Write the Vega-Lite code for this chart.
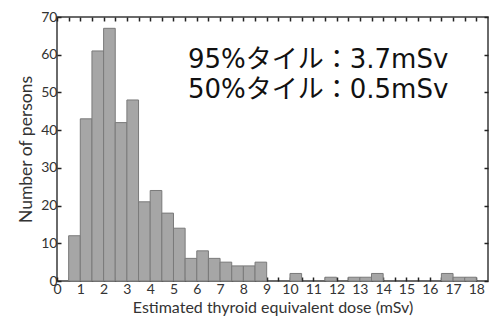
{
  "$schema": "https://vega.github.io/schema/vega-lite/v6.json",
  "width": 431,
  "height": 264,
  "autosize": "none",
  "padding": {"left": 57, "top": 17, "right": 1, "bottom": 42},
  "background": "white",
  "config": {
    "view": {"stroke": "#3a3a3a", "strokeWidth": 1.5},
    "axis": {
      "labelFont": "Lato", "titleFont": "Lato",
      "labelColor": "#333", "titleColor": "#333",
      "grid": false, "domain": false,
      "tickColor": "#222", "tickWidth": 1.5, "tickSize": -4
    }
  },
  "datasets": {
    "bins": [
      {"start": 0.5, "end": 1.0, "count": 12},
      {"start": 1.0, "end": 1.5, "count": 43},
      {"start": 1.5, "end": 2.0, "count": 61},
      {"start": 2.0, "end": 2.5, "count": 67},
      {"start": 2.5, "end": 3.0, "count": 42},
      {"start": 3.0, "end": 3.5, "count": 48},
      {"start": 3.5, "end": 4.0, "count": 21},
      {"start": 4.0, "end": 4.5, "count": 24},
      {"start": 4.5, "end": 5.0, "count": 18},
      {"start": 5.0, "end": 5.5, "count": 14},
      {"start": 5.5, "end": 6.0, "count": 6},
      {"start": 6.0, "end": 6.5, "count": 8},
      {"start": 6.5, "end": 7.0, "count": 6},
      {"start": 7.0, "end": 7.5, "count": 5},
      {"start": 7.5, "end": 8.0, "count": 4},
      {"start": 8.0, "end": 8.5, "count": 4},
      {"start": 8.5, "end": 9.0, "count": 5},
      {"start": 10.0, "end": 10.5, "count": 2},
      {"start": 11.5, "end": 12.0, "count": 1},
      {"start": 12.5, "end": 13.0, "count": 1},
      {"start": 13.0, "end": 13.5, "count": 1},
      {"start": 13.5, "end": 14.0, "count": 2},
      {"start": 16.5, "end": 17.0, "count": 2},
      {"start": 17.0, "end": 17.5, "count": 1},
      {"start": 17.5, "end": 18.0, "count": 1}
    ],
    "notes": [
      {"label": "95%タイル：3.7mSv", "dose": 5.62, "persons": 56.4},
      {"label": "50%タイル：0.5mSv", "dose": 5.62, "persons": 48.4}
    ]
  },
  "resolve": {"axis": {"x": "independent", "y": "independent"}},
  "layer": [
    {
      "data": {"name": "bins"},
      "mark": {"type": "rect", "fill": "#a6a6a6", "stroke": "#7a7a7a", "strokeWidth": 1},
      "encoding": {
        "x": {
          "field": "start", "type": "quantitative",
          "scale": {"domain": [0, 18.5], "nice": false, "zero": false},
          "axis": {
            "orient": "bottom",
            "values": [0,0.5,1,1.5,2,2.5,3,3.5,4,4.5,5,5.5,6,6.5,7,7.5,8,8.5,9,9.5,10,10.5,11,11.5,12,12.5,13,13.5,14,14.5,15,15.5,16,16.5,17,17.5,18],
            "labelExpr": "datum.value % 1 == 0 ? format(datum.value, 'd') : ''",
            "labelOverlap": false, "labelFlush": false,
            "labelFontSize": 14, "labelPadding": 5,
            "title": "Estimated thyroid equivalent dose (mSv)",
            "titleFontSize": 16, "titleFontWeight": "normal", "titlePadding": 3
          }
        },
        "x2": {"field": "end"},
        "y": {
          "field": "count", "type": "quantitative",
          "scale": {"domain": [0, 70], "nice": false},
          "axis": {
            "orient": "left",
            "values": [0,10,20,30,40,50,60,70],
            "labelFontSize": 14, "labelPadding": 4,
            "title": "Number of persons",
            "titleFontSize": 17.5, "titleFontWeight": "normal", "titlePadding": 5
          }
        },
        "y2": {"datum": 0}
      }
    },
    {
      "data": {"name": "notes"},
      "mark": {"type": "text", "align": "left", "baseline": "alphabetic", "font": "DejaVu Sans, Noto Sans CJK JP", "fontSize": 26, "color": "#111"},
      "encoding": {
        "x": {
          "field": "dose", "type": "quantitative",
          "scale": {"domain": [0, 18.5], "nice": false, "zero": false},
          "axis": {
            "orient": "top",
            "values": [0,0.5,1,1.5,2,2.5,3,3.5,4,4.5,5,5.5,6,6.5,7,7.5,8,8.5,9,9.5,10,10.5,11,11.5,12,12.5,13,13.5,14,14.5,15,15.5,16,16.5,17,17.5,18],
            "labels": false, "title": null
          }
        },
        "y": {
          "field": "persons", "type": "quantitative",
          "scale": {"domain": [0, 70], "nice": false},
          "axis": {
            "orient": "right",
            "values": [0,10,20,30,40,50,60,70],
            "labels": false, "title": null
          }
        },
        "text": {"field": "label"}
      }
    }
  ]
}
